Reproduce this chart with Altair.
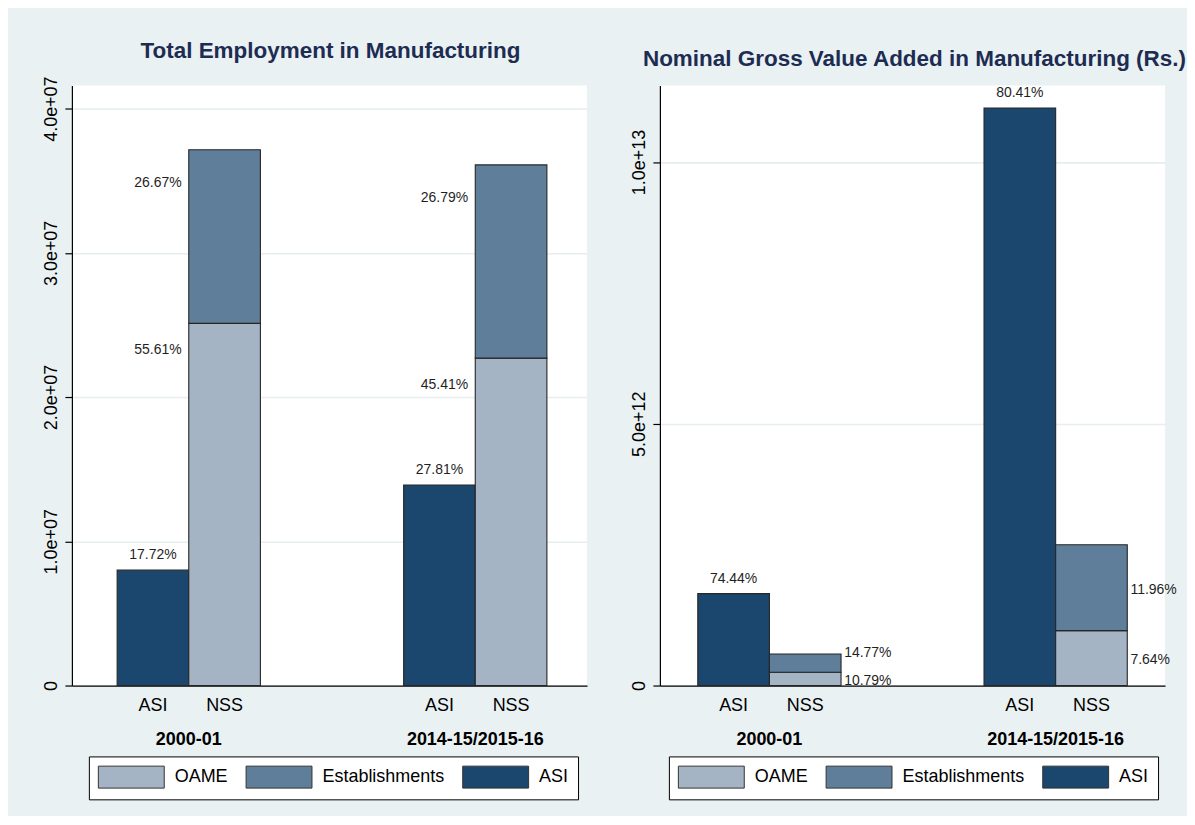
import altair as alt
import pandas as pd

FONT = "Liberation Sans"

groups = ["2000-01", "2014-15/2015-16"]
sources = ["ASI", "NSS"]
components = ["OAME", "Establishments", "ASI"]
comp_colors = ["#a5b4c4", "#5e7e9a", "#1b466d"]

# Total employment in manufacturing (persons)
emp_asi = [8.00e6, 1.39e7]
emp_oame = [2.511e7, 2.27e7]
emp_est = [1.204e7, 1.34e7]
emp_pct_asi = ["17.72%", "27.81%"]
emp_pct_oame = ["55.61%", "45.41%"]
emp_pct_est = ["26.67%", "26.79%"]

# Nominal gross value added in manufacturing (Rs.)
gva_asi = [1.756e12, 1.103e13]
gva_oame = [2.545e11, 1.048e12]
gva_est = [3.484e11, 1.641e12]
gva_pct_asi = ["74.44%", "80.41%"]
gva_pct_oame = ["10.79%", "7.64%"]
gva_pct_est = ["14.77%", "11.96%"]


def build(asi, oame, est, p_asi, p_oame, p_est):
    rows = []
    for i, g in enumerate(groups):
        rows.append(dict(group=g, source="ASI", component="ASI", lo=0.0, hi=asi[i],
                         mid=asi[i] / 2, label=p_asi[i], gi=i))
        rows.append(dict(group=g, source="NSS", component="OAME", lo=0.0, hi=oame[i],
                         mid=oame[i] / 2, label=p_oame[i], gi=i))
        rows.append(dict(group=g, source="NSS", component="Establishments", lo=oame[i],
                         hi=oame[i] + est[i], mid=oame[i] + est[i] / 2, label=p_est[i], gi=i))
    return pd.DataFrame(rows)


emp_df = build(emp_asi, emp_oame, emp_est, emp_pct_asi, emp_pct_oame, emp_pct_est)
gva_df = build(gva_asi, gva_oame, gva_est, gva_pct_asi, gva_pct_oame, gva_pct_est)


def panel(df, title, width, ymax, ticks, label_expr, pad_outer, align, title_offset,
          title_dx, legend_x, side):
    x_axis = alt.Axis(title=None, labels=False, ticks=False, domain=True, domainColor="black",
                      domainWidth=1.3, grid=False)
    x = alt.X("group:N", sort=groups, axis=x_axis,
              scale=alt.Scale(paddingInner=0.5, paddingOuter=pad_outer, align=align))
    xo = alt.XOffset("source:N", sort=sources, scale=alt.Scale(paddingInner=0, paddingOuter=0))
    y_axis = alt.Axis(title=None, values=ticks, labelExpr=label_expr, labelAngle=270,
                      labelAlign="center", labelBaseline="alphabetic", labelFontSize=18,
                      labelFont=FONT, labelColor="black", labelPadding=8, tickSize=7,
                      tickColor="black", tickWidth=1.2, domainColor="black", domainWidth=1.2,
                      gridColor="#e6eef0", gridWidth=1.6)
    y = alt.Y("hi:Q", axis=y_axis, scale=alt.Scale(domain=[0, ymax], nice=False, zero=True))
    color = alt.Color(
        "component:N",
        scale=alt.Scale(domain=components, range=comp_colors),
        legend=alt.Legend(
            title=None, orient="none", legendX=legend_x, legendY=672, direction="horizontal",
            columns=3, symbolType="M-1,-1L5,-1L5,1L-1,1Z",
            symbolSize=484, symbolStrokeColor="#333333", symbolStrokeWidth=1,
            symbolOpacity=1, labelFontSize=18, labelFont=FONT, labelColor="black",
            labelOffset=54, columnPadding=15, padding=9, strokeColor="black",
            fillColor="white", labelLimit=300,
        ),
    )
    base = alt.Chart(df)
    bars = base.mark_bar(stroke="#262626", strokeWidth=1.1).encode(
        x=x, xOffset=xo, y=y, y2="lo:Q", color=color
    )
    txt = dict(fontSize=14, font=FONT, color="#1f1f1f", baseline="alphabetic")
    asi_lab = base.transform_filter("datum.component == 'ASI'").mark_text(
        align="center", dy=-11, **txt
    ).encode(x=x, xOffset=xo, y=y, text="label:N")
    layers = [bars, asi_lab]
    if side == "left":
        est_lab = base.transform_filter("datum.component == 'Establishments'").mark_text(
            align="right", dx=-43, dy=37, **txt
        ).encode(x=x, xOffset=xo, y=y, text="label:N")
        oame_lab = base.transform_filter("datum.component == 'OAME'").mark_text(
            align="right", dx=-43, dy=31, **txt
        ).encode(x=x, xOffset=xo, y=y, text="label:N")
        layers += [est_lab, oame_lab]
    else:
        ym = alt.Y("mid:Q", axis=y_axis, scale=alt.Scale(domain=[0, ymax], nice=False, zero=True))
        nss_lab = base.transform_filter(
            "datum.component != 'ASI' && !(datum.gi == 0 && datum.component == 'Establishments')"
        ).mark_text(align="left", dx=39, dy=6, **txt).encode(x=x, xOffset=xo, y=ym, text="label:N")
        nudged = base.transform_filter(
            "datum.gi == 0 && datum.component == 'Establishments'"
        ).mark_text(align="left", dx=39, dy=-6, **txt).encode(x=x, xOffset=xo, y=ym, text="label:N")
        layers += [nss_lab, nudged]
    tick_lab = base.transform_filter("datum.component != 'Establishments'").mark_text(
        align="center", baseline="alphabetic", dy=26, fontSize=18, font=FONT, color="black"
    ).encode(x=x, xOffset=xo, y=alt.datum(0), text="source:N")
    grp_lab = base.transform_filter("datum.component == 'ASI'").mark_text(
        align="center", baseline="alphabetic", dy=60, fontSize=18, font=FONT,
        fontWeight="bold", color="black"
    ).encode(x=x, y=alt.datum(0), text="group:N")
    layers += [tick_lab, grp_lab]
    return alt.layer(*layers).properties(
        width=width, height=601,
        title=alt.TitleParams(title, fontSize=22.5, font=FONT, fontWeight="bold", color="#1d2c52",
                              anchor="middle", frame="group", offset=title_offset, dx=title_dx,
                              baseline="alphabetic"),
    )


left = panel(emp_df, "Total Employment in Manufacturing", 516, 4.16e7,
             [0, 1e7, 2e7, 3e7, 4e7],
             "datum.value == 0 ? '0' : replace(format(datum.value, '.1e'), 'e+7', 'e+07')",
             0.149, 0.53, -5, 1, 17, "left")
right = panel(gva_df, "Nominal Gross Value Added in Manufacturing (Rs.)", 506, 1.146e13,
              [0, 5e12, 1e13],
              "datum.value == 0 ? '0' : format(datum.value, '.1e')",
              0.1324, 0.5, -3, 2, 9, "right")

chart = alt.hconcat(left, right, spacing=73, bounds="flush").resolve_scale(
    color="independent"
).properties(
    background="#eaf1f3",
    padding={"left": 34, "top": 31, "right": 0, "bottom": 15},
).configure(font=FONT).configure_view(stroke=None, fill="white")

chart.save("out.html", embed_options={"renderer": "svg", "actions": False})
